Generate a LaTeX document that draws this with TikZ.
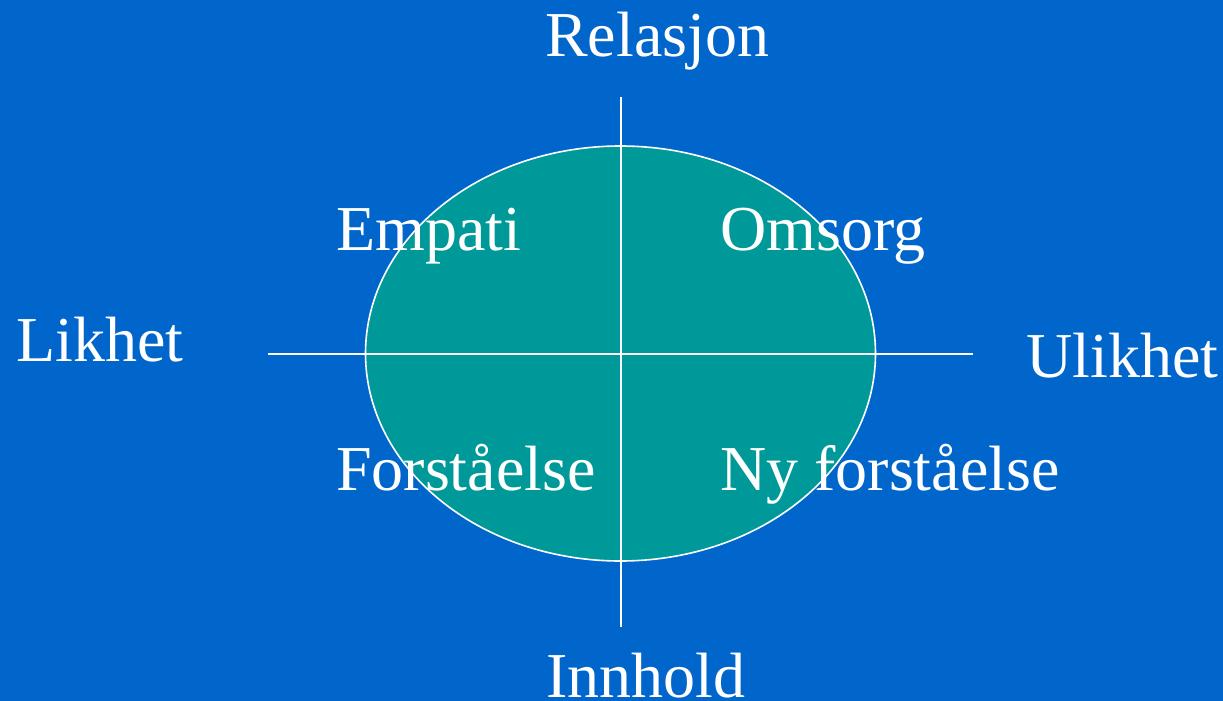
\documentclass[tikz,border=0pt]{standalone}
\usepackage{fontspec}
\setmainfont{Liberation Serif}
\usetikzlibrary{shapes.geometric}
\definecolor{bgblue}  {HTML}{0066CC}
\definecolor{teal}    {HTML}{009999}

\begin{document}
\begin{tikzpicture}[x=1pt, y=-1pt, font=\fontsize{64}{77}\selectfont,
    lbl/.style={text=white, anchor=base west, inner sep=0pt},
    axis/.style={draw=white, line width=1.6pt}]
      \fill[bgblue] (0,0) rectangle (1223,701);
      \useasboundingbox (0,0) rectangle (1223,701);
      \node[ellipse, draw=white, fill=teal, line width=1.6pt, minimum width=510pt, minimum height=415pt, inner sep=0pt] (oval) at (620.5,353.5) {};
      \coordinate (top) at (621,97);
      \coordinate (bot) at (621,627);
      \coordinate (lft) at (268,354);
      \coordinate (rgt) at (973,354);
      \draw[axis] (top) -- (bot);
      \draw[axis] (lft) -- (rgt);
      \node[lbl] (rel) at (545,57)  {Relasjon};
      \node[lbl] (inn) at (546,697) {Innhold};
      \node[lbl] (lik) at (16,361)  {Likhet};
      \node[lbl] (ulik) at (1026,377) {Ulikhet};
      \node[lbl] (emp) at (336,250) {Empati};
      \node[lbl] (oms) at (720,250) {Omsorg};
      \node[lbl] (for) at (336,490) {Forståelse};
      \node[lbl] (nyf) at (720,490) {Ny forståelse};
    \end{tikzpicture}
\end{document}
